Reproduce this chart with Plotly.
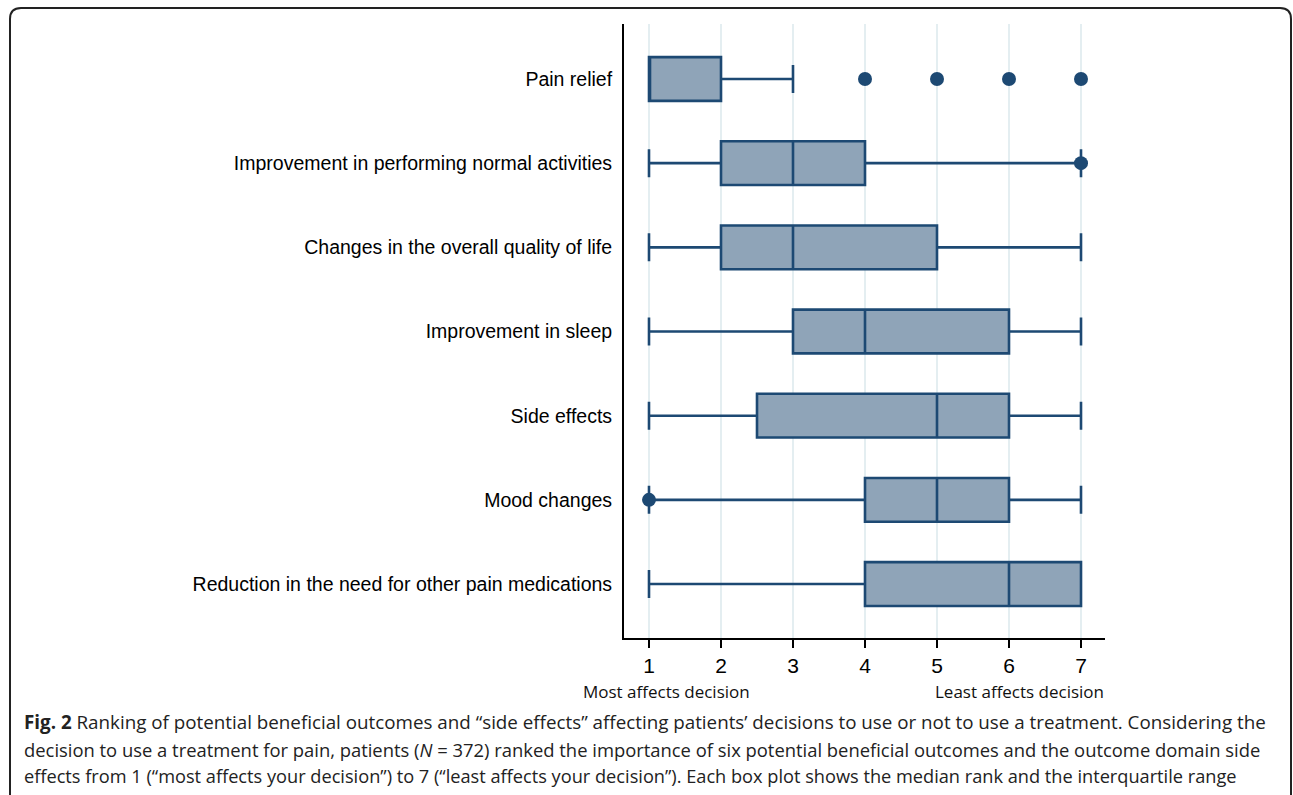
import plotly.graph_objects as go

# ---- data ----
categories = [
    "Pain relief",
    "Improvement in performing normal activities",
    "Changes in the overall quality of life",
    "Improvement in sleep",
    "Side effects",
    "Mood changes",
    "Reduction in the need for other pain medications",
]
q1 = [1, 2, 2, 3, 2.5, 4, 4]
median = [1, 3, 3, 4, 5, 5, 6]
q3 = [2, 4, 5, 6, 6, 6, 7]
lower_whisker = [1, 1, 1, 1, 1, 1, 1]
upper_whisker = [3, 7, 7, 7, 7, 7, 7]
outlier_x = [4, 5, 6, 7, 7, 1]
outlier_cat = ["Pain relief", "Pain relief", "Pain relief", "Pain relief",
               "Improvement in performing normal activities", "Mood changes"]
x_ticks = [1, 2, 3, 4, 5, 6, 7]

caption_lines = [
    "<b>Fig. 2</b> Ranking of potential beneficial outcomes and “side effects” affecting patients’ decisions to use or not to use a treatment. Considering the",
    "decision to use a treatment for pain, patients (<i>N</i> = 372) ranked the importance of six potential beneficial outcomes and the outcome domain side",
    "effects from 1 (“most affects your decision”) to 7 (“least affects your decision”). Each box plot shows the median rank and the interquartile range",
]
caption_sizes = [18.8, 18.4, 18.2]

# ---- style ----
W, H = 1293, 795
L, R, T, B = 624, 188, 24, 157
PW, PH = W - L - R, H - T - B
LINE = "#1d4973"
FILL = "#8fa4b8"
GRID = "#e4eef1"


def px_x(px):
    return (px - L) / PW


def px_y(py):
    return (H - B - py) / PH


fig = go.Figure()
fig.add_trace(go.Box(
    y=categories, q1=q1, median=median, q3=q3,
    lowerfence=lower_whisker, upperfence=upper_whisker,
    orientation="h", boxpoints=False,
    fillcolor=FILL, line=dict(color=LINE, width=2.6),
    width=0.52, whiskerwidth=0.64, showlegend=False, hoverinfo="x",
))
fig.add_trace(go.Scatter(
    x=outlier_x, y=outlier_cat, mode="markers",
    marker=dict(color=LINE, size=14), showlegend=False,
))

# rounded frame
r = 11
x0, y0, x1, y1 = 10, 8, 1291, 830
path = (f"M {px_x(x0)},{px_y(y1)} L {px_x(x0)},{px_y(y0 + r)} "
        f"Q {px_x(x0)},{px_y(y0)} {px_x(x0 + r)},{px_y(y0)} "
        f"L {px_x(x1 - r)},{px_y(y0)} "
        f"Q {px_x(x1)},{px_y(y0)} {px_x(x1)},{px_y(y0 + r)} "
        f"L {px_x(x1)},{px_y(y1)}")
shapes = [dict(type="path", path=path, xref="paper", yref="paper",
               line=dict(color="#222222", width=2), layer="above")]

annotations = [
    dict(text="Most affects decision", x=px_x(666), y=px_y(691), xref="paper", yref="paper",
         showarrow=False, xanchor="center", yanchor="middle",
         font=dict(family="Open Sans", size=17, color="#111111")),
    dict(text="Least affects decision", x=px_x(1019), y=px_y(691), xref="paper", yref="paper",
         showarrow=False, xanchor="center", yanchor="middle",
         font=dict(family="Open Sans", size=17, color="#111111")),
]
for i, line in enumerate(caption_lines):
    annotations.append(dict(
        text=line, x=px_x(22), y=px_y(722 + 27 * i), xref="paper", yref="paper",
        showarrow=False, xanchor="left", yanchor="middle",
        font=dict(family="Open Sans", size=caption_sizes[i], color="#222222")))

fig.update_layout(
    width=W, height=H,
    margin=dict(l=L, r=R, t=T, b=B, autoexpand=False),
    paper_bgcolor="white", plot_bgcolor="white",
    shapes=shapes, annotations=annotations,
    xaxis=dict(range=[1 - 25 / 72, 1 + 456 / 72], tickvals=x_ticks,
               ticks="outside", ticklen=8, tickwidth=2, tickcolor="black",
               showline=True, linecolor="black", linewidth=2,
               showgrid=True, gridcolor=GRID, gridwidth=2, zeroline=False,
               tickfont=dict(family="Liberation Sans", size=21, color="black")),
    yaxis=dict(categoryorder="array", categoryarray=categories,
               range=[6.641, -0.653], showline=True, linecolor="black", linewidth=2,
               showgrid=False, zeroline=False, ticks="", ticklabelstandoff=6,
               tickfont=dict(family="Liberation Sans", size=19.5, color="black")),
)

fig.write_html("out.html", config={"displayModeBar": False},
               post_script="document.body.style.margin='0';")
